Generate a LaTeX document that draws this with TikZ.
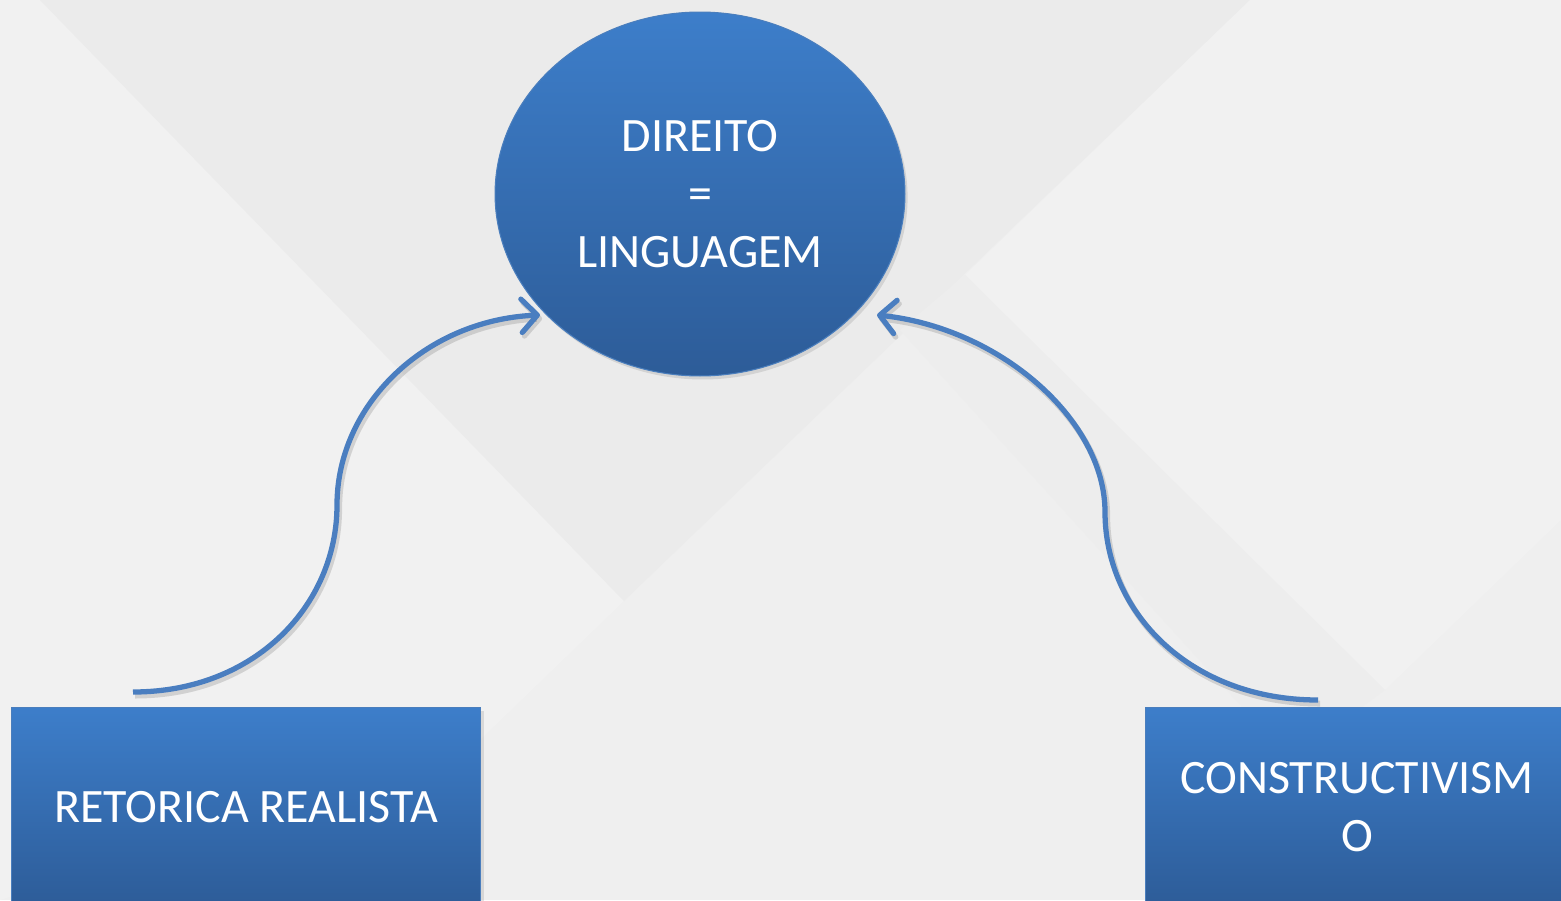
\documentclass[tikz,border=0pt]{standalone}
\usepackage{fontspec}
\setmainfont{Carlito}
\usetikzlibrary{arrows.meta,shadows,shapes.geometric}
\definecolor{bgbase}{HTML}{EFEFEF}
\definecolor{bgdark}{HTML}{EBEBEB}
\definecolor{bglight}{HTML}{F1F1F1}
\definecolor{topblue}{HTML}{3D7ECA}
\definecolor{botblue}{HTML}{2D5C98}
\definecolor{edgeblue}{HTML}{4A7EBD}
\definecolor{linkblue}{HTML}{4A7EC0}
\tikzset{
  shade box/.style={top color=topblue, bottom color=botblue, draw=edgeblue, line width=0.6pt,
    text=white, align=center, font=\fontsize{27.3}{33}\selectfont,
    drop shadow={opacity=0.22, shadow xshift=1.5pt, shadow yshift=-2pt}},
  oval/.style={shade box, ellipse, inner sep=0pt, minimum width=8.2cm, minimum height=7.28cm},
  block/.style={shade box, rectangle, inner sep=0pt, minimum height=4cm},
  link/.style={draw=linkblue, line width=3pt, -{Straight Barb[length=9pt,width=19pt,line width=3pt,round]},
    preaction={draw=black, opacity=0.13, line width=3.4pt, transform canvas={shift={(1.2pt,-2pt)}}}}
}
\begin{document}
\begin{tikzpicture}[x=0.02cm,y=-0.02cm]
\path[use as bounding box] (0,0) rectangle (1561,900);
\clip (0,0) rectangle (1561,900);
% background
\fill[bgbase] (0,0) rectangle (1561,900);
\fill[bglight] (0,0) -- (40,0) -- (624,601) -- (480,740) -- (0,900) -- cycle;
\fill[bgdark] (40,0) -- (1250,0) -- (624,601) -- cycle;
\fill[bglight] (1250,0) -- (1561,0) -- (1561,520) -- (1385,690) -- (965,275) -- cycle;
\fill[bgdark!50!bgbase] (965,275) -- (1385,690) -- (1290,760) -- (900,330) -- cycle;
% nodes
\node[oval] (law) at (700,194) {DIREITO\\=\\LINGUAGEM};
\node[block, minimum width=9.4cm] (ret) at (246,807) {RETORICA REALISTA};
\node[block, minimum width=8.48cm] (con) at (1357,807) {CONSTRUCTIVISM\\O};
% connector end points
\coordinate (ls) at (133,692);
\coordinate (le) at (540,315);
\coordinate (rs) at (1318,700);
\coordinate (re) at (877,315);
\draw[link] (ls) .. controls (255,692) and (337,605) .. (337,505)
  .. controls (337,405) and (425,320) .. (le);
\draw[link] (rs) .. controls (1190,700) and (1105,612) .. (1105,512)
  .. controls (1105,420) and (1000,328) .. (re);
\end{tikzpicture}
\end{document}
